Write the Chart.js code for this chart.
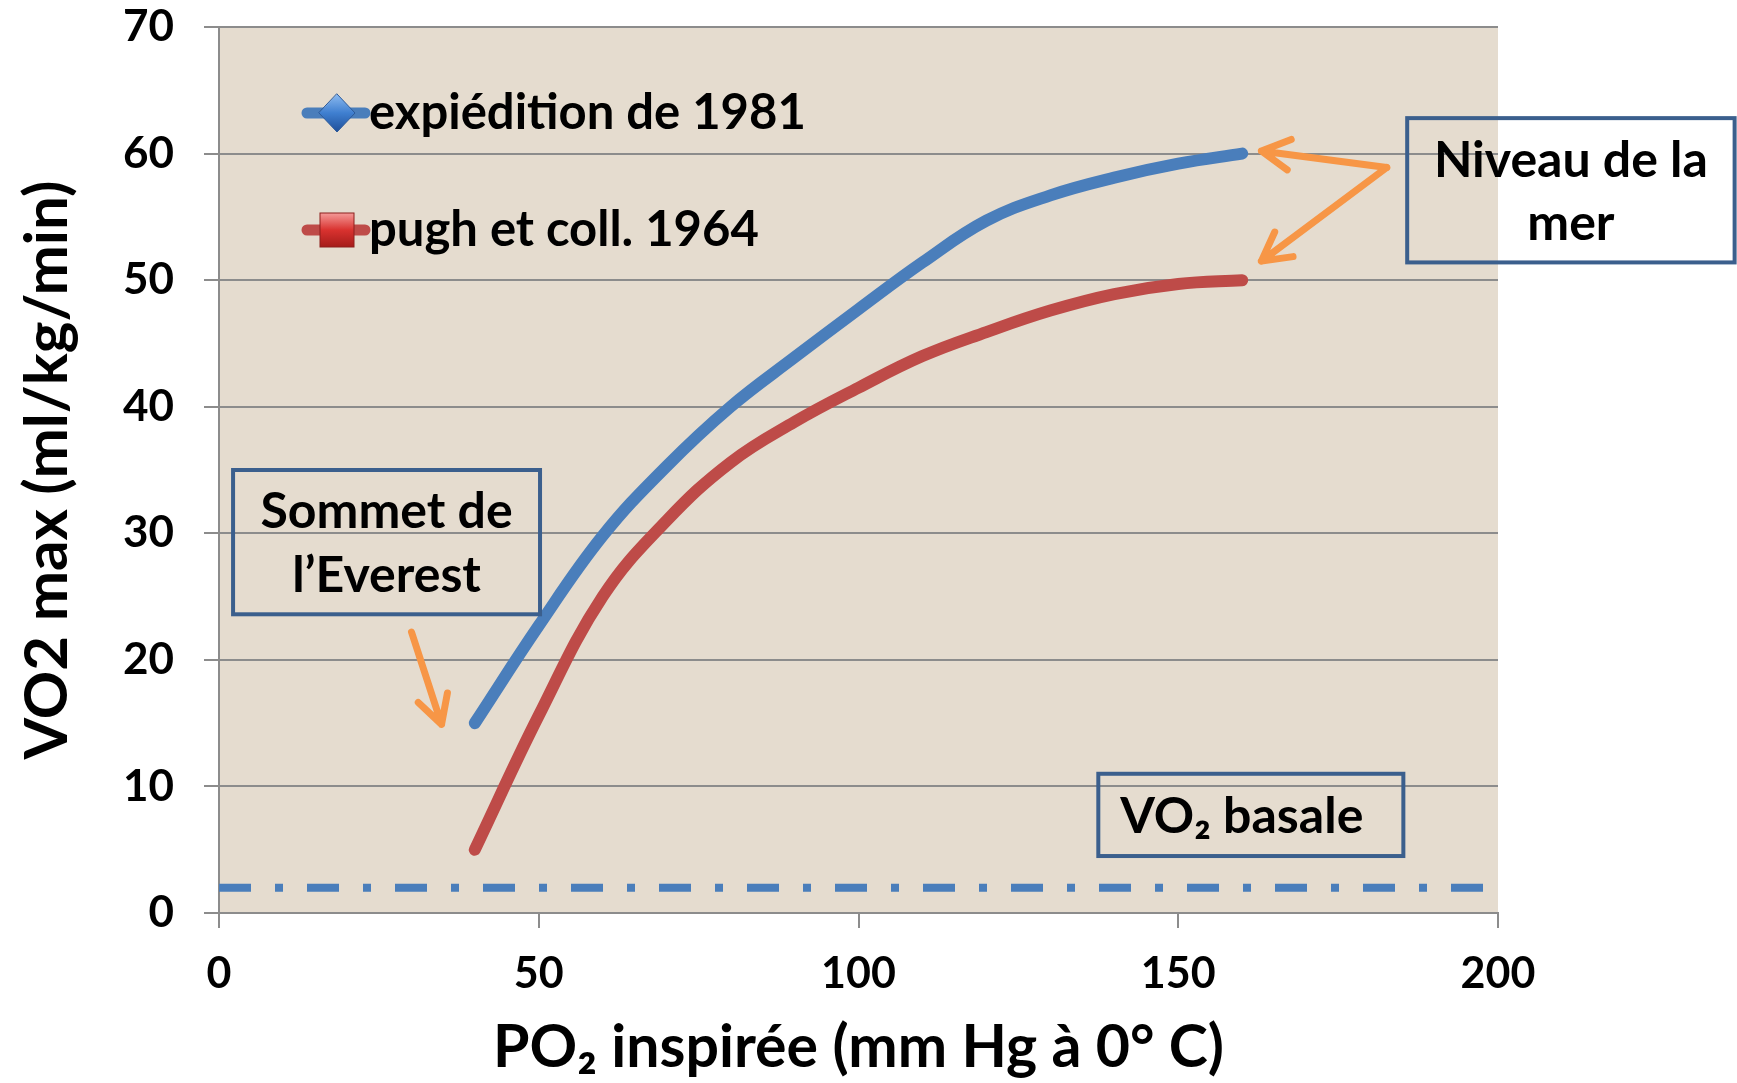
<!DOCTYPE html>
<html>
<head>
<meta charset="utf-8">
<script src="https://cdn.jsdelivr.net/npm/chart.js@4.4.1/dist/chart.umd.min.js"></script>
<style>
  html, body { margin: 0; padding: 0; background: #fff; }
</style>
</head>
<body>
<canvas id="chart" width="1737" height="1083"></canvas>
<script>
// PO2 inspiree (mm Hg) and VO2 max (ml/kg/min)
const po2 = [40, 50, 60, 70, 80, 90, 100, 110, 120, 130, 140, 150, 160];
const vo2Expedition1981 = [15, 22.7, 29.8, 35.3, 40.0, 43.9, 47.7, 51.4, 54.7, 56.7, 58.1, 59.2, 60];
const vo2Pugh1964 = [5, 15.6, 25.0, 31.0, 35.6, 38.8, 41.5, 44.0, 45.9, 47.6, 48.9, 49.7, 50];
const basalPo2 = [0, 200];
const basalVo2 = [2, 2];
const seriesLabels = ['expiédition de 1981', 'pugh et coll. 1964'];
const xRange = [0, 200];
const yRange = [0, 70];
const xStep = 50;
const yStep = 10;
const xTitle = 'PO₂ inspirée (mm Hg à 0° C)';
const yTitle = 'VO2 max (ml/kg/min)';

const FONT = 'Lato';
const BLUE = '#4a7ebb';
const RED = '#be4b48';
const ORANGE = '#f79646';
const BOX = '#3b5f8d';
const GRID = '#8c8c8c';

function toPoints(xs, ys) {
    return xs.map((x, i) => ({ x: x, y: ys[i] }));
}

// text boxes and arrows, placed in data units
const noteBoxes = [
    { lines: ['Sommet de', 'l’Everest'], x0: 2.2, x1: 50.2, y0: 35.0, y1: 23.6, align: 'center', gap: 64 },
    { lines: ['Niveau de la', 'mer'], x0: 185.8, x1: 237.0, y0: 62.8, y1: 51.4, align: 'center', gap: 63 },
    { lines: ['VO₂ basale'], x0: 137.5, x1: 185.2, y0: 11.0, y1: 4.5, align: 'left', gap: 0 }
];
const noteArrows = [
    { from: [30.1, 22.2], to: [34.8, 14.9] },
    { from: [182.6, 58.9], to: [163.0, 60.2] },
    { from: [182.6, 58.9], to: [163.0, 51.5] }
];

const plotBackground = {
    id: 'plotBackground',
    beforeDraw(chart) {
        const { ctx, chartArea: a } = chart;
        ctx.save();
        ctx.fillStyle = '#e5dccf';
        ctx.fillRect(a.left, a.top, a.right - a.left, a.bottom - a.top);
        ctx.restore();
    }
};

function drawArrow(ctx, x0, y0, x1, y1) {
    const ang = Math.atan2(y1 - y0, x1 - x0);
    const head = 32;
    ctx.beginPath();
    ctx.moveTo(x0, y0);
    ctx.lineTo(x1, y1);
    ctx.moveTo(x1 - head * Math.cos(ang - 0.5), y1 - head * Math.sin(ang - 0.5));
    ctx.lineTo(x1, y1);
    ctx.lineTo(x1 - head * Math.cos(ang + 0.5), y1 - head * Math.sin(ang + 0.5));
    ctx.stroke();
}

const notes = {
    id: 'notes',
    afterDatasetsDraw(chart) {
        const { ctx, scales: { x, y } } = chart;
        ctx.save();
        // arrows
        ctx.strokeStyle = ORANGE;
        ctx.lineWidth = 7;
        ctx.lineCap = 'round';
        ctx.lineJoin = 'round';
        noteArrows.forEach(a => {
            drawArrow(ctx, x.getPixelForValue(a.from[0]), y.getPixelForValue(a.from[1]),
                x.getPixelForValue(a.to[0]), y.getPixelForValue(a.to[1]));
        });
        // boxes
        ctx.font = 'bold 50px ' + FONT;
        ctx.textBaseline = 'middle';
        ctx.fillStyle = '#000';
        noteBoxes.forEach(b => {
            const l = x.getPixelForValue(b.x0), r = x.getPixelForValue(b.x1);
            const t = y.getPixelForValue(b.y0), bt = y.getPixelForValue(b.y1);
            ctx.strokeStyle = BOX;
            ctx.lineWidth = 4;
            ctx.lineJoin = 'miter';
            ctx.strokeRect(l, t, r - l, bt - t);
            const cy = (t + bt) / 2 + 2;
            b.lines.forEach((txt, i) => {
                const ty = cy + (i - (b.lines.length - 1) / 2) * b.gap;
                if (b.align === 'left') {
                    ctx.textAlign = 'left';
                    ctx.fillText(txt, l + 22, ty);
                } else {
                    ctx.textAlign = 'center';
                    ctx.fillText(txt, (l + r) / 2, ty);
                }
            });
        });
        ctx.restore();
    }
};

// legend drawn inside the plot, as in the original
const insideLegend = {
    id: 'insideLegend',
    afterDatasetsDraw(chart) {
        const { ctx, chartArea: a } = chart;
        const items = chart.data.datasets.filter(d => d.label);
        ctx.save();
        items.forEach((ds, i) => {
            const cy = a.top + 86 + i * 117;
            const lx = a.left + 88;
            ctx.strokeStyle = ds.borderColor;
            ctx.lineWidth = 11;
            ctx.lineCap = 'round';
            ctx.beginPath();
            ctx.moveTo(lx, cy);
            ctx.lineTo(lx + 58, cy);
            ctx.stroke();
            const mx = lx + 30;
            if (ds.pointStyle === 'rectRot') {
                const g = ctx.createLinearGradient(mx, cy - 19, mx, cy + 19);
                g.addColorStop(0, '#8dbbf0');
                g.addColorStop(0.5, '#3f7fd0');
                g.addColorStop(1, '#1f4f99');
                ctx.fillStyle = g;
                ctx.beginPath();
                ctx.moveTo(mx, cy - 19);
                ctx.lineTo(mx + 18, cy);
                ctx.lineTo(mx, cy + 19);
                ctx.lineTo(mx - 18, cy);
                ctx.closePath();
                ctx.fill();
                ctx.strokeStyle = '#2c5a9a';
                ctx.lineWidth = 1;
                ctx.stroke();
            } else {
                const g = ctx.createLinearGradient(mx, cy - 17, mx, cy + 17);
                g.addColorStop(0, '#f49a98');
                g.addColorStop(0.5, '#d9322f');
                g.addColorStop(1, '#a51c1a');
                ctx.fillStyle = g;
                ctx.fillRect(mx - 17, cy - 17, 34, 34);
                ctx.strokeStyle = '#8e1f1d';
                ctx.lineWidth = 1;
                ctx.strokeRect(mx - 17, cy - 17, 34, 34);
            }
            ctx.fillStyle = '#000';
            ctx.font = 'bold 49px ' + FONT;
            ctx.textAlign = 'left';
            ctx.textBaseline = 'middle';
            ctx.fillText(ds.label, lx + 62, cy);
        });
        ctx.restore();
    }
};

const ctx = document.getElementById('chart').getContext('2d');
new Chart(ctx, {
    type: 'line',
    data: {
        datasets: [
            {
                data: toPoints(basalPo2, basalVo2),
                borderColor: BLUE,
                borderWidth: 8,
                borderDash: [32, 24, 8, 24],
                borderCapStyle: 'butt',
                pointRadius: 0,
                tension: 0
            },
            {
                label: seriesLabels[0],
                data: toPoints(po2, vo2Expedition1981),
                borderColor: BLUE,
                borderWidth: 12,
                borderCapStyle: 'round',
                pointStyle: 'rectRot',
                pointRadius: 0,
                tension: 0.4
            },
            {
                label: seriesLabels[1],
                data: toPoints(po2, vo2Pugh1964),
                borderColor: RED,
                borderWidth: 12,
                borderCapStyle: 'round',
                pointStyle: 'rect',
                pointRadius: 0,
                tension: 0.4
            }
        ]
    },
    options: {
        responsive: false,
        animation: false,
        layout: { padding: { left: 0, top: 27, right: 239, bottom: 0 } },
        plugins: {
            legend: { display: false },
            tooltip: { enabled: false }
        },
        scales: {
            x: {
                type: 'linear',
                min: xRange[0],
                max: xRange[1],
                ticks: {
                    stepSize: xStep,
                    color: '#000',
                    padding: 20,
                    font: { family: FONT, weight: 'bold', size: 43 }
                },
                grid: {
                    drawOnChartArea: false,
                    drawTicks: true,
                    tickLength: 15,
                    color: GRID,
                    lineWidth: 2
                },
                border: { display: true, color: GRID, width: 2 },
                title: {
                    display: true,
                    text: xTitle,
                    color: '#000',
                    padding: { top: 0, bottom: 0 },
                    font: { family: FONT, weight: 'bold', size: 59 }
                },
                afterFit(scale) {
                    scale.height = 170;
                    scale.paddingLeft = 0;
                    scale.paddingRight = 0;
                }
            },
            y: {
                type: 'linear',
                min: yRange[0],
                max: yRange[1],
                ticks: {
                    stepSize: yStep,
                    color: '#000',
                    padding: 30,
                    font: { family: FONT, weight: 'bold', size: 44 }
                },
                grid: {
                    drawTicks: true,
                    tickLength: 15,
                    color: GRID,
                    lineWidth: 2
                },
                border: { display: true, color: GRID, width: 2 },
                title: {
                    display: true,
                    text: yTitle,
                    color: '#000',
                    padding: { top: 12, bottom: 0 },
                    font: { family: FONT, weight: 'bold', size: 60 }
                },
                afterFit(scale) {
                    scale.width = 219;
                    scale.paddingTop = 0;
                    scale.paddingBottom = 0;
                }
            }
        }
    },
    plugins: [plotBackground, notes, insideLegend]
});
</script>
</body>
</html>
